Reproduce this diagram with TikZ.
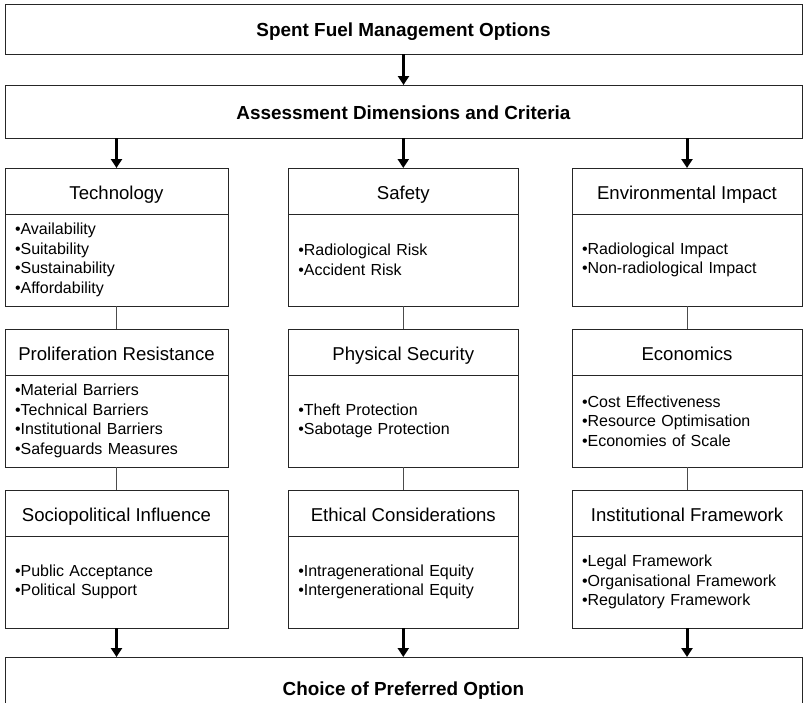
\documentclass[tikz,border=0pt]{standalone}
\usepackage{fontspec}
\setmainfont{Liberation Sans}
\usetikzlibrary{positioning,arrows.meta}

\tikzset{
  bigbox/.style={draw=black!85, line width=1pt, outer sep=0pt, minimum width=797pt,
    text height=15pt, text depth=0pt, font=\bfseries\fontsize{18.9}{22}\selectfont},
  headbox/.style={draw=black!85, line width=1pt, outer sep=0pt, inner sep=0pt,
    text height=16.5pt, text depth=0pt, minimum height=46pt, font=\fontsize{18.6}{22}\selectfont},
  listbox/.style={draw=black!85, line width=1pt, outer sep=0pt, inner ysep=0pt, inner xsep=10pt,
    minimum height=92pt, align=left, font=\fontsize{16}{19.7}\selectfont},
  fatarrow/.style={line width=3pt, -{Triangle[length=9pt,width=11pt]}},
  link/.style={line width=0.8pt, draw=black!70}
}

\begin{document}
\begin{tikzpicture}[x=1pt,y=-1pt]
\useasboundingbox (0,0) rectangle (803,702);
\clip (0,0) rectangle (803,702);

\node [bigbox, minimum height=50pt, anchor=north] (options) at (403.5,4) {Spent Fuel Management Options};
\node [bigbox, minimum height=53pt, below=31pt of options] (assess) {Assessment Dimensions and Criteria};

\node [headbox, minimum width=223pt, anchor=north] (tech-t) at (116.5,168) {Technology};
\node [listbox, text width=203pt, below=0pt of tech-t] (tech-b) {•Availability\\•Suitability\\•Sustainability\\•Affordability};
\node [headbox, minimum width=230pt, anchor=north] (safe-t) at (403.3,168) {Safety};
\node [listbox, text width=210pt, below=0pt of safe-t] (safe-b) {•Radiological Risk\\•Accident Risk};
\node [headbox, minimum width=230pt, anchor=north] (env-t) at (687,168) {Environmental Impact};
\node [listbox, text width=210pt, below=0pt of env-t] (env-b) {•Radiological Impact\\•Non-radiological Impact};

\node [headbox, minimum width=223pt, below=23pt of tech-b] (prolif-t) {Proliferation Resistance};
\node [listbox, text width=203pt, below=0pt of prolif-t] (prolif-b) {•Material Barriers\\•Technical Barriers\\•Institutional Barriers\\•Safeguards Measures};
\node [headbox, minimum width=230pt, below=23pt of safe-b] (secur-t) {Physical Security};
\node [listbox, text width=210pt, below=0pt of secur-t] (secur-b) {•Theft Protection\\•Sabotage Protection};
\node [headbox, minimum width=230pt, below=23pt of env-b] (econ-t) {Economics};
\node [listbox, text width=210pt, below=0pt of econ-t] (econ-b) {•Cost Effectiveness\\•Resource Optimisation\\•Economies of Scale};

\node [headbox, minimum width=223pt, below=23pt of prolif-b] (socio-t) {Sociopolitical Influence};
\node [listbox, text width=203pt, below=0pt of socio-t] (socio-b) {•Public Acceptance\\•Political Support};
\node [headbox, minimum width=230pt, below=23pt of secur-b] (ethic-t) {Ethical Considerations};
\node [listbox, text width=210pt, below=0pt of ethic-t] (ethic-b) {•Intragenerational Equity\\•Intergenerational Equity};
\node [headbox, minimum width=230pt, below=23pt of econ-b] (inst-t) {Institutional Framework};
\node [listbox, text width=210pt, below=0pt of inst-t] (inst-b) {•Legal Framework\\•Organisational Framework\\•Regulatory Framework};

\node [bigbox, minimum height=62pt, anchor=north] (choice) at (403.5,657) {Choice of Preferred Option};

\draw [fatarrow] (options) -- (assess);
\foreach \col in {tech,safe,env}
  \draw [fatarrow] (assess.south -| \col-t.north) -- (\col-t.north);
\foreach \col in {socio,ethic,inst}
  \draw [fatarrow] (\col-b.south) -- (choice.north -| \col-b.south);

\draw [link] (tech-b) -- (prolif-t);
\draw [link] (prolif-b) -- (socio-t);
\draw [link] (safe-b) -- (secur-t);
\draw [link] (secur-b) -- (ethic-t);
\draw [link] (env-b) -- (econ-t);
\draw [link] (econ-b) -- (inst-t);
\end{tikzpicture}
\end{document}
